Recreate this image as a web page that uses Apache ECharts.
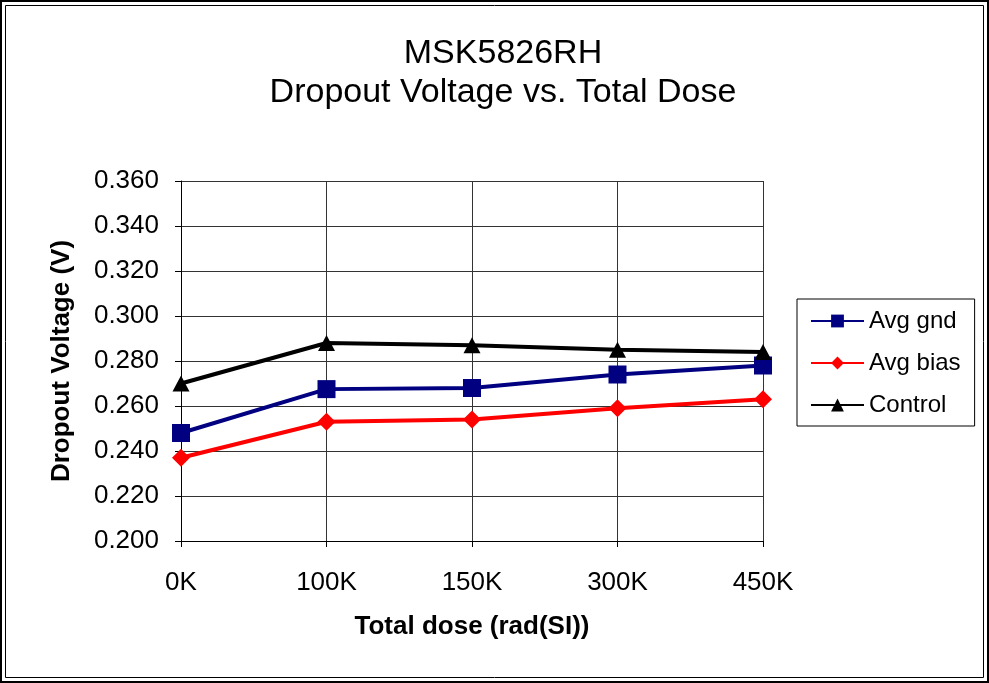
<!DOCTYPE html>
<html lang="en">
	<head>
		<meta charset="UTF-8">
		<title>MSK5826RH Dropout Voltage</title>
		<script src="https://cdn.jsdelivr.net/npm/echarts@6/dist/echarts.min.js"></script>
		<style type="text/css">
			html, body {
				margin: 0;
				padding: 0;
				background: #fff;
			}
			#main {
				width: 989px;
				height: 683px;
			}
		</style>
	</head>
	<body>
		<div id="main"></div>
	</body>
	<script type="text/javascript">
		// data
		var doses = ['0K', '100K', '150K', '300K', '450K'];
		var avgGnd = [0.248, 0.2675, 0.268, 0.274, 0.278];
		var avgBias = [0.237, 0.253, 0.254, 0.259, 0.263];
		var control = [0.270, 0.288, 0.287, 0.285, 0.284];

		var font = 'Liberation Sans, Arial, sans-serif';
		var chart = echarts.init(document.getElementById('main'));

		var option = {
			animation: false,
			backgroundColor: '#fff',
			title: {
				text: 'MSK5826RH\nDropout Voltage vs. Total Dose',
				left: 498,
				top: 29,
				textAlign: 'center',
				textStyle: {
					fontFamily: font,
					fontSize: 34,
					fontWeight: 'normal',
					color: '#000',
					lineHeight: 39
				}
			},
			legend: {
				orient: 'vertical',
				left: 797,
				top: 299,
				padding: [10, 14, 9, 13],
				itemGap: 18,
				itemWidth: 53,
				itemHeight: 16,
				borderColor: '#000',
				borderWidth: 1,
				borderRadius: 0,
				textStyle: { fontFamily: font, fontSize: 24, color: '#000' },
				data: ['Avg gnd', 'Avg bias', 'Control']
			},
			graphic: [
				{ type: 'rect', shape: { x: 1, y: 1, width: 987, height: 681 }, style: { fill: 'none', stroke: '#000', lineWidth: 2 } },
				{ type: 'rect', shape: { x: 5.5, y: 5.5, width: 978, height: 672 }, style: { fill: 'none', stroke: '#000', lineWidth: 1 } }
			],
			grid: {
				left: 181,
				right: 226,
				top: 181,
				bottom: 142
			},
			xAxis: {
				type: 'category',
				boundaryGap: false,
				data: doses,
				name: 'Total dose (rad(SI))',
				nameLocation: 'middle',
				nameGap: 73,
				nameTextStyle: { fontFamily: font, fontSize: 26, fontWeight: 'bold', color: '#000' },
				axisLine: { lineStyle: { color: '#000', width: 1 } },
				axisTick: { show: true, alignWithLabel: true, length: 6, lineStyle: { color: '#000' } },
				axisLabel: { fontFamily: font, fontSize: 26, color: '#000', margin: 29 },
				splitLine: { show: true, lineStyle: { color: '#333', width: 1 } }
			},
			yAxis: {
				type: 'value',
				min: 0.2,
				max: 0.36,
				interval: 0.02,
				name: 'Dropout Voltage (V)',
				nameLocation: 'middle',
				nameGap: 106,
				nameTextStyle: { fontFamily: font, fontSize: 26, fontWeight: 'bold', color: '#000' },
				axisLine: { show: true, lineStyle: { color: '#000', width: 1 } },
				axisTick: { show: true, length: 6, lineStyle: { color: '#000' } },
				axisLabel: {
					fontFamily: font,
					fontSize: 26,
					color: '#000',
					margin: 22,
					formatter: function (v) { return v.toFixed(3); }
				},
				splitLine: { show: true, lineStyle: { color: '#333', width: 1 } }
			},
			series: [
				{
					name: 'Avg gnd',
					type: 'line',
					data: avgGnd,
					symbol: 'rect',
					symbolSize: 18,
					color: '#000080',
					lineStyle: { width: 4, color: '#000080' },
					itemStyle: { color: '#000080' },
					z: 3
				},
				{
					name: 'Avg bias',
					type: 'line',
					data: avgBias,
					symbol: 'diamond',
					symbolSize: [18, 18],
					color: '#ff0000',
					lineStyle: { width: 4, color: '#ff0000' },
					itemStyle: { color: '#ff0000' },
					z: 2
				},
				{
					name: 'Control',
					type: 'line',
					data: control,
					symbol: 'triangle',
					symbolSize: [17, 16],
					color: '#000',
					lineStyle: { width: 4, color: '#000' },
					itemStyle: { color: '#000' },
					z: 4
				}
			]
		};
		chart.setOption(option);
	</script>
</html>
